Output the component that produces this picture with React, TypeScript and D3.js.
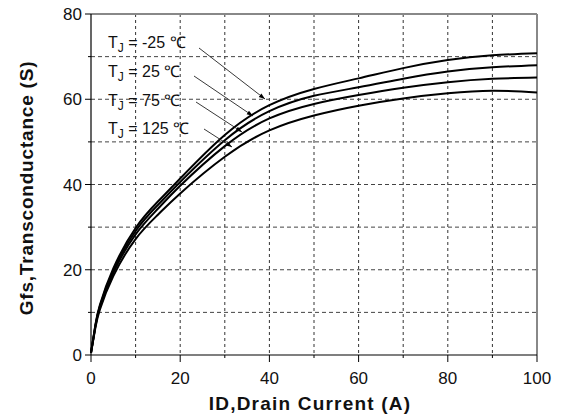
import React from "react";
import * as d3 from "d3";

const currents = [0, 1, 2, 5, 10, 15, 20, 30, 40, 50, 60, 70, 80, 90, 100];
const gfsM25 = [0.5, 7.2, 11.8, 20.3, 29.8, 36, 41.4, 51.6, 58.6, 62.4, 64.9, 67.3, 69.2, 70.3, 70.8];
const gfs25 = [0.5, 7.0, 11.5, 19.8, 29.1, 35.2, 40.6, 50.4, 57.2, 60.8, 62.8, 64.8, 66.5, 67.5, 68.0];
const gfs75 = [0.5, 6.8, 11.2, 19.3, 28.3, 34.3, 39.7, 49.0, 55.5, 58.9, 61.0, 62.7, 64.0, 64.8, 65.1];
const gfs125 = [0.5, 6.5, 10.7, 18.5, 27.2, 32.9, 37.9, 46.5, 52.7, 56.2, 58.5, 60.2, 61.4, 62.0, 61.6];

const seriesLabels = ["-25", "25", "75", "125"];
const xTicks = [0, 20, 40, 60, 80, 100];
const yTicks = [0, 20, 40, 60, 80];
const xMinor = [10, 30, 50, 70, 90];
const yMinor = [10, 30, 50, 70];

export default function App() {
  const W = 564, H = 419;
  const L = 91, R = 537, T = 14, B = 355;
  const x = d3.scaleLinear().domain([0, 100]).range([L, R]);
  const y = d3.scaleLinear().domain([0, 80]).range([B, T]);
  const line = d3
    .line<[number, number]>()
    .x((d) => x(d[0]))
    .y((d) => y(d[1]))
    .curve(d3.curveNatural);
  const allSeries = [gfsM25, gfs25, gfs75, gfs125];
  const font = "'Liberation Sans', Arial, sans-serif";

  const ann = [
    { ty: 48, lx: 199, ly: 48, ax: 265, ay: 99 },
    { ty: 77, lx: 194, ly: 76, ax: 253, ay: 116 },
    { ty: 106, lx: 196, ly: 102, ax: 242, ay: 132 },
    { ty: 134, lx: 204, ly: 129, ax: 232, ay: 147 },
  ];

  return (
    <svg width={W} height={H} style={{ position: "absolute", left: 0, top: 0, background: "#fff" }}>
      <defs>
        <marker id="ah" viewBox="0 0 10 10" refX="10" refY="5" markerWidth="7" markerHeight="7" orient="auto">
          <path d="M0,1.5 L10,5 L0,8.5 z" fill="#000" />
        </marker>
      </defs>
      <rect x={0} y={0} width={W} height={H} fill="#fff" />
      {xMinor.concat([20, 40, 60, 80]).map((v) => (
        <line key={"gx" + v} x1={x(v)} x2={x(v)} y1={T} y2={B} stroke="#333" strokeWidth={1} strokeDasharray="3,3" />
      ))}
      {yMinor.concat([20, 40, 60]).map((v) => (
        <line key={"gy" + v} x1={L} x2={R} y1={y(v)} y2={y(v)} stroke="#444" strokeWidth={1} strokeDasharray="4,3" />
      ))}
      <line x1={L} x2={R} y1={T} y2={T} stroke="#888" strokeWidth={2} />
      <line x1={R} x2={R} y1={T} y2={B} stroke="#888" strokeWidth={2} />
      <line x1={L} x2={L} y1={T} y2={B} stroke="#000" strokeWidth={1.2} />
      <line x1={L} x2={R} y1={B} y2={B} stroke="#000" strokeWidth={1.2} />
      {yTicks.map((v) => (
        <line key={"ty" + v} x1={L - 6} x2={L} y1={y(v)} y2={y(v)} stroke="#000" strokeWidth={1} />
      ))}
      {yMinor.map((v) => (
        <line key={"tym" + v} x1={L - 3} x2={L} y1={y(v)} y2={y(v)} stroke="#000" strokeWidth={1} />
      ))}
      {xTicks.map((v) => (
        <line key={"tx" + v} x1={x(v)} x2={x(v)} y1={B} y2={B + 7} stroke="#000" strokeWidth={1} />
      ))}
      {xMinor.map((v) => (
        <line key={"txm" + v} x1={x(v)} x2={x(v)} y1={B} y2={B + 3} stroke="#000" strokeWidth={1} />
      ))}
      {yTicks.map((v) => (
        <text key={"ly" + v} x={L - 9} y={y(v) + 6} textAnchor="end" fontFamily={font} fontSize={17} fill="#111">
          {v}
        </text>
      ))}
      {xTicks.map((v) => (
        <text key={"lx" + v} x={x(v)} y={384} textAnchor="middle" fontFamily={font} fontSize={17} fill="#111">
          {v}
        </text>
      ))}
      {allSeries.map((s, i) => (
        <path
          key={"s" + i}
          d={line(currents.map((c, j) => [c, s[j]] as [number, number])) || ""}
          fill="none"
          stroke="#000"
          strokeWidth={2}
        />
      ))}
      {ann.map((a, i) => (
        <g key={"a" + i}>
          <text x={108} y={a.ty} fontFamily={font} fontSize={16} fill="#111">
            T
            <tspan fontSize={12} dy={4}>J</tspan>
            <tspan dy={-4}>{" = " + seriesLabels[i] + " ℃"}</tspan>
          </text>
          <line x1={a.lx} y1={a.ly} x2={a.ax} y2={a.ay} stroke="#222" strokeWidth={0.9} markerEnd="url(#ah)" />
        </g>
      ))}
      <text x={310} y={410} textAnchor="middle" fontFamily={font} fontSize={19} fontWeight="bold" letterSpacing={1.2} fill="#111">
        ID,Drain Current (A)
      </text>
      <text
        transform={`translate(33,188) rotate(-90)`}
        textAnchor="middle"
        fontFamily={font}
        fontSize={19}
        fontWeight="bold"
        letterSpacing={0.8}
        fill="#111"
      >
        Gfs,Transconductance (S)
      </text>
    </svg>
  );
}
